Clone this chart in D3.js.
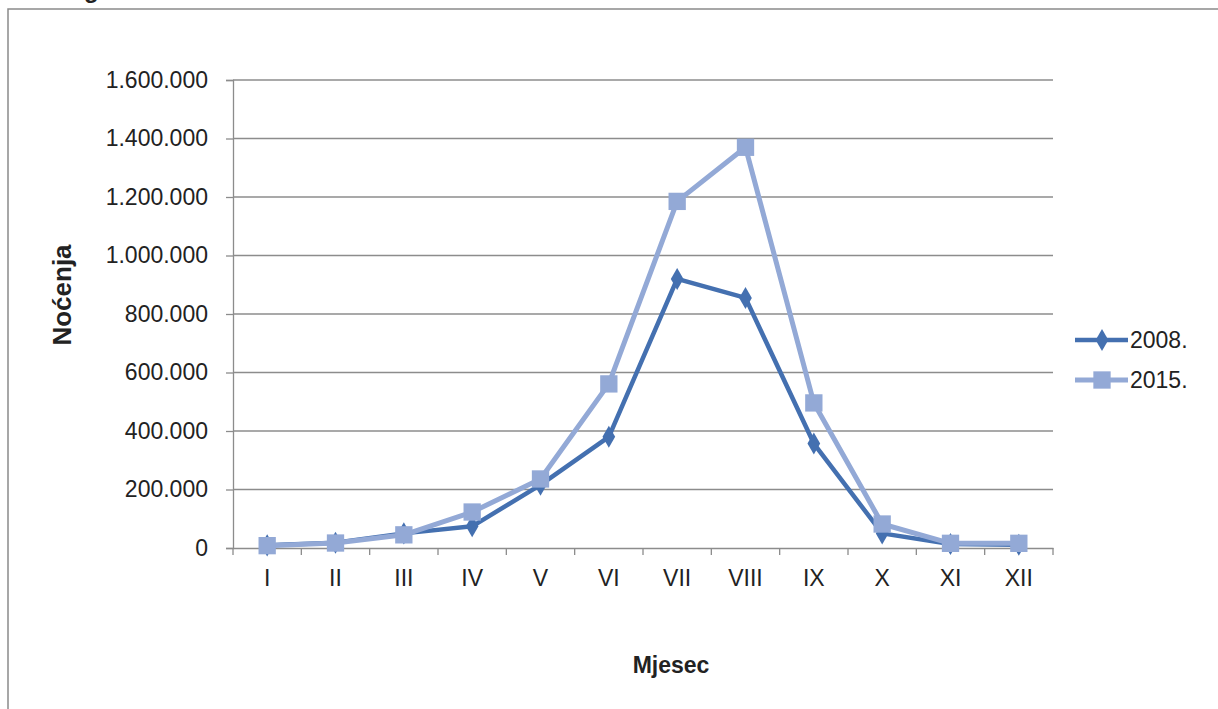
<!DOCTYPE html>
<html><head><meta charset="utf-8">
<script src="https://cdn.jsdelivr.net/npm/d3@7"></script>
<style>body{margin:0;background:#fff}svg{display:block}text{font-family:"Liberation Sans",Arial,sans-serif;fill:#222}</style>
</head><body>
<script>
const months = ["I","II","III","IV","V","VI","VII","VIII","IX","X","XI","XII"];
const s2008 = [9000, 18000, 50000, 74000, 216000, 380000, 920000, 855000, 357000, 50000, 14000, 11000];
const s2015 = [8000, 17000, 45000, 123000, 236000, 561000, 1185000, 1370000, 496000, 82000, 16000, 16000];
const seriesNames = ["2008.", "2015."];
const yTicks = [0, 200000, 400000, 600000, 800000, 1000000, 1200000, 1400000, 1600000];

const W = 1218, H = 709;
const svg = d3.select("body").append("svg").attr("width", W).attr("height", H);

// outer frame
svg.append("rect").attr("x", 8).attr("y", 9).attr("width", 1240).attr("height", 740)
  .attr("fill", "none").attr("stroke", "#8a8a8a").attr("stroke-width", 1.5);
// cropped heading above the frame (only its descender is visible in the reference)
svg.append("text").attr("x", 84).attr("y", -2).attr("font-size", 24).attr("font-weight", "bold").text("g");

const L = 233, R = 1053, T = 80, B = 548;
const x = d3.scaleBand().domain(months).range([L, R]);
const y = d3.scaleLinear().domain([0, 1600000]).range([B, T]);
const fmt = v => d3.format(",")(v).replace(/,/g, ".");

// gridlines
svg.append("g").selectAll("line").data(yTicks.filter(d => d > 0)).join("line")
  .attr("x1", L).attr("x2", R).attr("y1", d => y(d)).attr("y2", d => y(d))
  .attr("stroke", "#8c8c8c").attr("stroke-width", 1.3);

// y axis
const ya = svg.append("g").attr("transform", `translate(${L},0)`)
  .call(d3.axisLeft(y).tickValues(yTicks).tickFormat(fmt).tickSize(7).tickPadding(18));
ya.select(".domain").attr("stroke", "#8c8c8c").attr("stroke-width", 1.3);
ya.selectAll(".tick line").attr("stroke", "#8c8c8c").attr("stroke-width", 1.3);
ya.selectAll("text").attr("font-size", 23).attr("font-family", "Liberation Sans, Arial, sans-serif").attr("fill", "#222");

// x axis
const xa = svg.append("g").attr("transform", `translate(0,${B})`)
  .call(d3.axisBottom(x).tickSize(0).tickPadding(22));
xa.select(".domain").attr("stroke", "#8c8c8c").attr("stroke-width", 1.3);
xa.selectAll("text").attr("font-size", 23).attr("font-family", "Liberation Sans, Arial, sans-serif").attr("fill", "#222");
const bounds = months.map(m => x(m)).concat([R]);
svg.append("g").selectAll("line").data(bounds).join("line")
  .attr("x1", d => d).attr("x2", d => d).attr("y1", B).attr("y2", B + 7)
  .attr("stroke", "#8c8c8c").attr("stroke-width", 1.3);

const cx = m => x(m) + x.bandwidth() / 2;
const c2008 = "#4470b0", c2015 = "#93a9d6";

function drawSeries(vals, color, width, shape, size) {
  const line = d3.line().x((d, i) => cx(months[i])).y(d => y(d));
  svg.append("path").datum(vals).attr("d", line).attr("fill", "none")
    .attr("stroke", color).attr("stroke-width", width).attr("stroke-linejoin", "round");
  svg.append("g").selectAll("path").data(vals).join("path")
    .attr("transform", (d, i) => `translate(${cx(months[i])},${y(d)})`)
    .attr("d", d3.symbol().type(shape).size(size)).attr("fill", color);
}
drawSeries(s2008, c2008, 4.5, d3.symbolDiamond, 140);
drawSeries(s2015, c2015, 5, d3.symbolSquare, 300);

// axis titles
svg.append("text").attr("transform", "translate(71,295) rotate(-90)").attr("text-anchor", "middle")
  .attr("font-size", 26).attr("font-weight", "bold").text("Noćenja");
svg.append("text").attr("x", 671).attr("y", 673).attr("text-anchor", "middle")
  .attr("font-size", 23).attr("font-weight", "bold").text("Mjesec");

// legend
const leg = [{n: seriesNames[0], c: c2008, w: 4.5, s: d3.symbolDiamond, z: 140, y: 340},
             {n: seriesNames[1], c: c2015, w: 5, s: d3.symbolSquare, z: 300, y: 380}];
const lg = svg.append("g").selectAll("g").data(leg).join("g");
lg.append("line").attr("x1", 1075).attr("x2", 1128).attr("y1", d => d.y).attr("y2", d => d.y)
  .attr("stroke", d => d.c).attr("stroke-width", d => d.w);
lg.append("path").attr("transform", d => `translate(1102,${d.y})`)
  .attr("d", d => d3.symbol().type(d.s).size(d.z)()).attr("fill", d => d.c);
lg.append("text").attr("x", 1130).attr("y", d => d.y + 8).attr("font-size", 23).text(d => d.n);
</script>
</body></html>
